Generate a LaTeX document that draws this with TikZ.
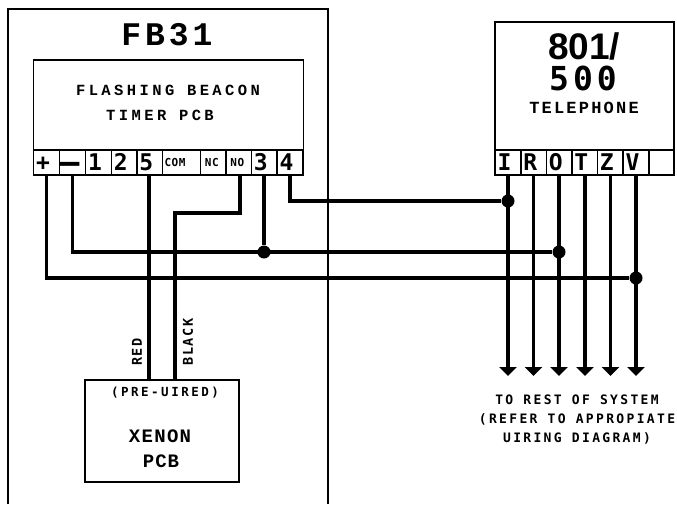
\documentclass[tikz,border=0pt]{standalone}
\usepackage{fontspec}
\usetikzlibrary{arrows.meta}
\newfontfamily\slabf{Liberation Mono}
\newfontfamily\monof{DejaVu Sans Mono}
\newfontfamily\sansf{Liberation Sans}
\newcommand{\tsl}[3]{{\slabf\bfseries\fontsize{#1}{#1}\selectfont\addfontfeature{LetterSpace=#2}#3}}
\newcommand{\tmb}[3]{{\monof\bfseries\fontsize{#1}{#1}\selectfont\addfontfeature{LetterSpace=#2}#3}}
\newcommand{\shl}[1]{\tmb{23}{0}{\vphantom{0}#1}\hspace*{7pt}}
\newcommand{\shs}[1]{\tmb{11}{5}{#1}\hspace*{3pt}}
\tikzset{
  x=1pt,y=-1pt,
  box/.style={draw,line width=1.5pt,inner sep=0pt,outer sep=0pt,anchor=north west},
  cell/.style={draw,line width=1.3pt,inner sep=0pt,outer sep=0pt,minimum height=25pt,anchor=north west},
  wire/.style={line width=3.6pt,line join=miter},
  jdot/.style={circle,fill=black,inner sep=0pt,minimum size=13pt},
  lab/.style={inner sep=0pt,align=center,text=black},
  down/.style={wire,-{Triangle[width=17pt,length=9pt]}}
}
\begin{document}
\begin{tikzpicture}
\useasboundingbox (0,0) rectangle (677,504);
% outer enclosure
\coordinate (oa) at (8,504);\coordinate (ob) at (8,9);\coordinate (oc) at (328,9);\coordinate (od) at (328,504);
\draw[line width=1.3pt] (oa) -- (ob) -- (oc) -- (od);
% boxes
\node[box,minimum width=270pt,minimum height=115pt] (pcb) at (33.5,60) {};
\node[box,minimum width=179pt,minimum height=153pt] (tel) at (495,22) {};
\node[box,minimum width=154pt,minimum height=102pt] (xen) at (85,380) {};
% PCB terminals
\node[cell,minimum width=26pt] (tp) at (33.5,150) {\shl{+}};
\node[cell,minimum width=26pt] (tm) at (59.5,150) {\makebox[0pt]{\kern-6pt\smash{\raisebox{-11pt}{\tmb{33}{0}{—}}}}};
\node[cell,minimum width=26pt] (t1) at (85.5,150) {\shl{1}};
\node[cell,minimum width=25.5pt] (t2) at (111.5,150) {\shl{2}};
\node[cell,minimum width=25.5pt] (t5) at (137,150) {\shl{5}};
\node[cell,minimum width=38pt] (tc) at (162.5,150) {\tmb{11}{5}{COM}\hspace*{13pt}};
\node[cell,minimum width=25.5pt] (tn) at (200.5,150) {\shs{NC}};
\node[cell,minimum width=25.5pt] (to) at (226,150) {\shs{NO}};
\node[cell,minimum width=25.5pt] (t3) at (251.5,150) {\shl{3}};
\node[cell,minimum width=26pt] (t4) at (277,150) {\shl{4}};
% telephone terminals
\node[cell,minimum width=26pt] (ci) at (495,150) {\shl{I}};
\node[cell,minimum width=25.5pt] (cr) at (521,150) {\shl{R}};
\node[cell,minimum width=25.5pt] (co) at (546.5,150) {\shl{O}};
\node[cell,minimum width=25.5pt] (ct) at (572,150) {\shl{T}};
\node[cell,minimum width=25.5pt] (cz) at (597.5,150) {\shl{Z}};
\node[cell,minimum width=26pt] (cv) at (623,150) {\shl{V}};
\node[cell,minimum width=25pt] (cx) at (649,150) {};
% titles
\node[lab] (fb) at (167,35) {\tsl{33}{12}{FB31}};
\node[lab] (fl) at (168,90) {\tsl{15.5}{22}{FLASHING BEACON}};
\node[lab] (ti) at (160,115) {\tsl{15.5}{22}{TIMER PCB}};
\node[lab] (n8) at (584,46) {\sansf\bfseries\fontsize{37}{37}\selectfont 801/};
\node[lab] (n5) at (583,78) {\tmb{33}{12}{500}};
\node[lab] (te) at (584,108) {\tsl{17}{13}{TELEPHONE}};
\node[lab] (pw) at (165,393) {\tmb{12.5}{20}{(PRE-UIRED)}};
\node[lab] (xe) at (160,436) {\tsl{19}{7}{XENON}};
\node[lab] (pc) at (161,461) {\tsl{19}{5}{PCB}};
\node[lab,rotate=90] (rd) at (137,352) {\tmb{13.5}{12}{RED}};
\node[lab,rotate=90] (bl) at (188,342) {\tmb{13.5}{12}{BLACK}};
\node[lab] (r1) at (577,400) {\tmb{13}{18}{TO REST OF SYSTEM}};
\node[lab] (r2) at (577,419) {\tmb{13}{18}{(REFER TO APPROPIATE}};
\node[lab] (r3) at (577,438) {\tmb{13}{18}{UIRING DIAGRAM)}};
% junctions
\node[jdot] (j1) at (508,201) {};
\node[jdot] (j2) at (559,252) {};
\node[jdot] (j3) at (264,252) {};
\node[jdot] (j4) at (636,278) {};
% free ends of the arrows
\foreach \n/\x in {ai/508,ar/533.5,ao/559,at/585,az/610.5,av/636}{\coordinate (\n) at (\x,376);}
% wires
\coordinate (b1) at (175,213);\coordinate (b2) at (175,380);\coordinate (b3) at (149,380);
\draw[wire] (290,175) |- (j1);
\draw[wire] (240,175) |- (b1) -- (b2);
\draw[wire] (149,175) -- (b3);
\draw[wire] (264,175) -- (j3);
\draw[wire] (72.5,175) |- (j2);
\draw[wire] (46.5,175) |- (j4);
% telephone lines
\draw[down] (508,175) -- (ai);
\draw[down] (533.5,175) -- (ar);
\draw[down] (559,175) -- (ao);
\draw[down] (585,175) -- (at);
\draw[down] (610.5,175) -- (az);
\draw[down] (636,175) -- (av);
\end{tikzpicture}
\end{document}
